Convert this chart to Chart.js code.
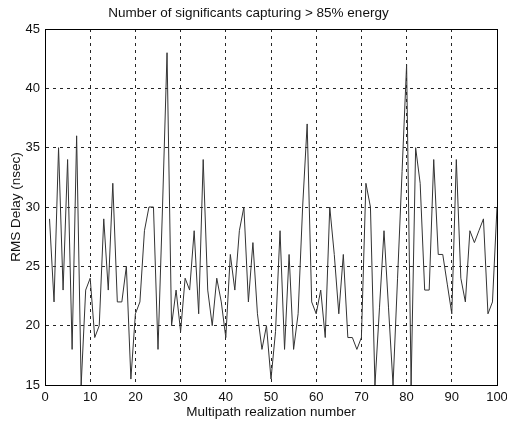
<!DOCTYPE html>
<html>
<head>
<meta charset="utf-8">
<script src="https://cdn.jsdelivr.net/npm/chart.js@4/dist/chart.umd.min.js"></script>
<style>
  html, body { margin: 0; padding: 0; background: #ffffff; }
  #wrap { width: 507px; height: 429px; position: relative; }
</style>
</head>
<body>
<div id="wrap"><canvas id="c" width="507" height="429"></canvas></div>
<script>
// ---- data ----
const chartTitle = "Number of significants capturing > 85% energy";
const xTitle = "Multipath realization number";
const yTitle = "RMS Delay (nsec)";

// realization numbers 1..100
const realizations = Array.from({ length: 100 }, (_, i) => i + 1);

// RMS delay (nsec) per realization
const rmsDelay = [
  29, 22, 35, 23, 34, 18, 36, 15, 23, 24,
  19, 20, 29, 23, 32, 22, 22, 25, 15.5, 21,
  22, 28, 30, 30, 18, 30, 43, 20, 23, 19.5,
  24, 23, 28, 21, 34, 23, 20, 24, 22, 19,
  26, 23, 28, 30, 22, 27, 21, 18, 20, 15.5,
  19.5, 28, 18, 26, 18, 21, 30, 37, 22, 21,
  23, 19, 30, 26, 21, 26, 19, 19, 18, 19,
  32, 30, 15, 21.5, 28, 21.5, 15, 24, 33, 42,
  15, 35, 32, 23, 23, 34, 26, 26, 23.5, 21,
  34, 24, 22, 28, 27, 28, 29, 21, 22, 30
];

const xTicks = [0, 10, 20, 30, 40, 50, 60, 70, 80, 90, 100];
const yTicks = [15, 20, 25, 30, 35, 40, 45];

// ---- chart ----
const FONT = "'Liberation Sans', Arial, Helvetica, sans-serif";

const framePlugin = {
  id: 'frame',
  afterDatasetsDraw(chart) {
    const { ctx, chartArea: a } = chart;
    ctx.save();
    ctx.strokeStyle = '#000';
    ctx.lineWidth = 1;
    ctx.setLineDash([]);
    ctx.strokeRect(Math.round(a.left) + 0.5, Math.round(a.top) + 0.5,
                   Math.round(a.right - a.left), Math.round(a.bottom - a.top));
    ctx.restore();
  }
};

new Chart(document.getElementById('c'), {
  type: 'line',
  data: {
    datasets: [{
      data: realizations.map((x, i) => ({ x: x, y: rmsDelay[i] })),
      borderColor: '#333333',
      borderWidth: 1,
      pointRadius: 0,
      tension: 0,
      fill: false
    }]
  },
  options: {
    responsive: false,
    animation: false,
    devicePixelRatio: 1,
    layout: { padding: { left: 0, right: 10, top: 0, bottom: 0 } },
    plugins: {
      legend: { display: false },
      tooltip: { enabled: false },
      title: {
        display: true,
        text: chartTitle,
        color: '#111',
        font: { family: FONT, size: 13.5, weight: 'normal' },
        padding: { top: 5, bottom: 7.8 }
      }
    },
    scales: {
      x: {
        type: 'linear',
        min: 0, max: 100,
        afterBuildTicks(s) { s.ticks = xTicks.map(v => ({ value: v })); },
        afterFit(s) { s.height = 44; s.paddingLeft = 0; s.paddingRight = 0; },
        ticks: {
          color: '#111',
          font: { family: FONT, size: 13 },
          padding: 5,
          maxRotation: 0,
          autoSkip: false
        },
        grid: {
          color: 'rgba(0,0,0,0.85)',
          lineWidth: 1,
          drawTicks: false
        },
        border: { display: true, color: '#000', dash: [3, 4] },
        title: {
          display: true,
          text: xTitle,
          color: '#111',
          font: { family: FONT, size: 13.5 },
          padding: { top: 0, bottom: 9 }
        }
      },
      y: {
        type: 'linear',
        min: 15, max: 45,
        afterBuildTicks(s) { s.ticks = yTicks.map(v => ({ value: v })); },
        afterFit(s) { s.width = 45; },
        ticks: {
          color: '#111',
          font: { family: FONT, size: 13 },
          padding: 5
        },
        grid: {
          color: 'rgba(0,0,0,0.85)',
          lineWidth: 1,
          drawTicks: false
        },
        border: { display: true, color: '#000', dash: [3, 4] },
        title: {
          display: true,
          text: yTitle,
          color: '#111',
          font: { family: FONT, size: 13.5 },
          padding: { top: 8, bottom: 0 }
        }
      }
    }
  },
  plugins: [framePlugin]
});
</script>
</body>
</html>
